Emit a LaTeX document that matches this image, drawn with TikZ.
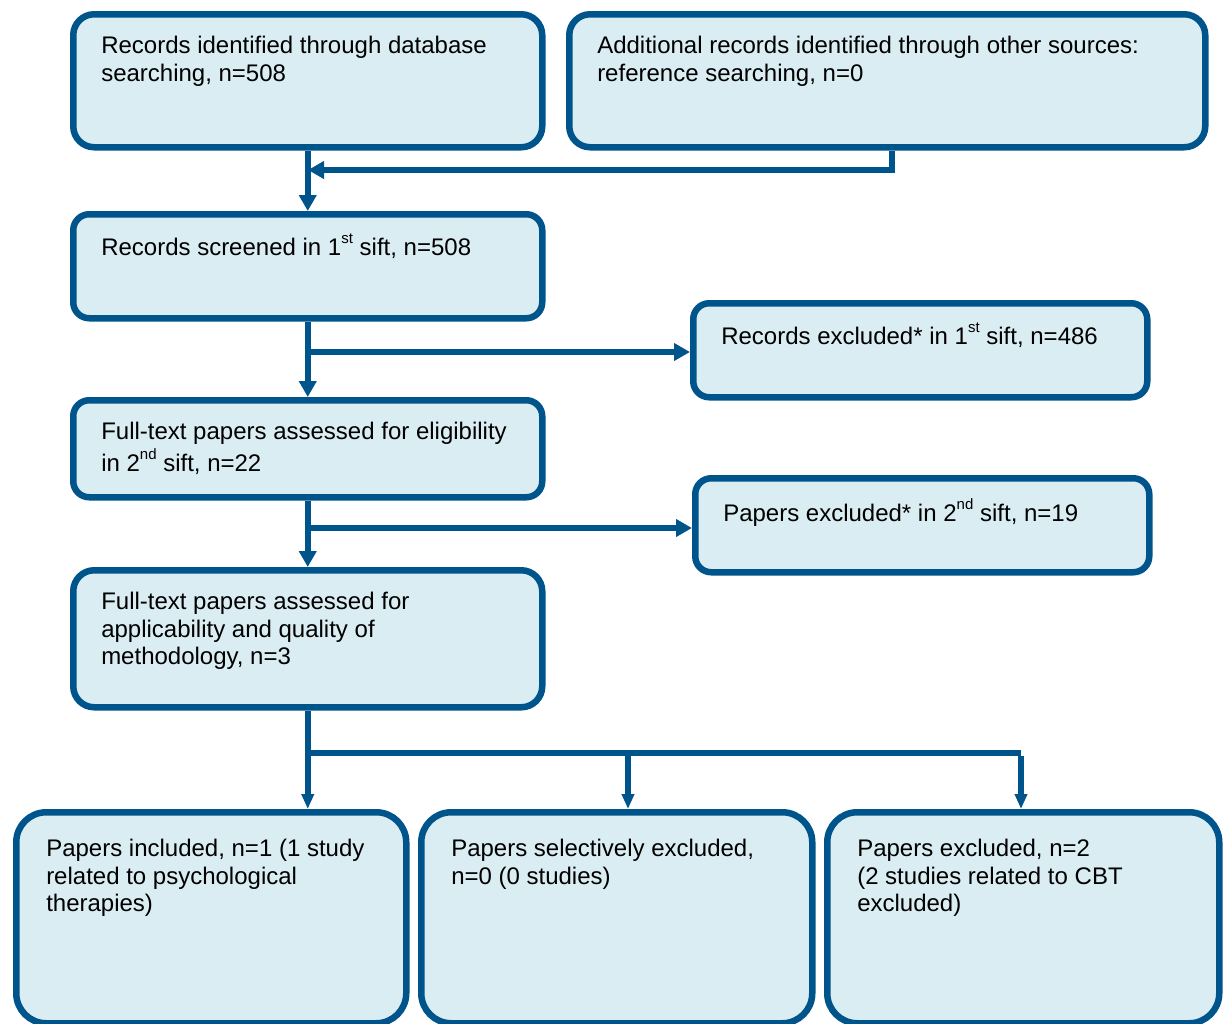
\documentclass[tikz,border=0pt]{standalone}
\usepackage{fontspec}
\setmainfont{Liberation Sans}
\usetikzlibrary{arrows.meta}

\definecolor{flowblue}{RGB}{0,84,140}
\definecolor{flowfill}{RGB}{218,237,243}

\newcommand{\stagetext}[3]{\parbox[c][\dimexpr#2pt-40pt\relax][t]{\dimexpr#1pt-56pt\relax}{\raggedright\strut #3}}
\newcommand{\outcometext}[3]{\parbox[c][\dimexpr#2pt-50pt\relax][t]{\dimexpr#1pt-60pt\relax}{\raggedright\strut #3}}
\newcommand{\ord}[1]{\raisebox{12pt}{\fontsize{15}{15}\selectfont #1}}

\tikzset{
  stage/.style={draw=flowblue, fill=flowfill, line width=6.5pt, rectangle, rounded corners=21pt,
    inner xsep=28pt, inner ysep=20pt, anchor=north west, font=\fontsize{24}{27.5}\selectfont},
  outcome/.style={stage, rounded corners=30pt, inner xsep=30pt, inner ysep=25pt},
  flow/.style={draw=flowblue, line width=6pt, -{Triangle[length=16pt,width=17pt]}},
  flowline/.style={draw=flowblue, line width=6pt},
}

\begin{document}
\begin{tikzpicture}[x=1pt,y=-1pt]
\useasboundingbox (0,0) rectangle (1226,1023);

\node[stage] (ident) at (70,11) {\stagetext{469}{133}{Records identified through database\\ searching, n=508}};
\node[stage] (extra) at (566,11) {\stagetext{636}{133}{Additional records identified through other sources:\\ reference searching, n=0}};
\node[stage, rounded corners=16pt] (screen) at (70,211) {\stagetext{469}{104}{Records screened in 1\ord{st} sift, n=508}};
\node[stage, rounded corners=16pt] (excl1) at (690,300) {\stagetext{454}{94}{Records excluded* in 1\ord{st} sift, n=486}};
\node[stage, rounded corners=16pt] (elig) at (70,397) {\stagetext{469}{97}{Full-text papers assessed for eligibility\\ in 2\ord{nd} sift, n=22}};
\node[stage, rounded corners=16pt] (excl2) at (692,475) {\stagetext{454}{94}{Papers excluded* in 2\ord{nd} sift, n=19}};
\node[stage] (appl) at (70,567) {\stagetext{469}{137}{Full-text papers assessed for\\ applicability and quality of\\ methodology, n=3}};
\node[outcome] (incl) at (13,809) {\outcometext{390}{211}{Papers included, n=1 (1 study\\ related to psychological\\ therapies)}};
\node[outcome] (selex) at (418,809) {\outcometext{391}{211}{Papers selectively excluded,\\ n=0 (0 studies)}};
\node[outcome] (excl) at (824,809) {\outcometext{392}{211}{Papers excluded, n=2\\ (2 studies related to CBT\\ excluded)}};

\coordinate (j1) at (308,170);
\coordinate (j2) at (305,352);
\coordinate (j3) at (305,528);
\coordinate (j4) at (305,753);
\coordinate (j5) at (628,753);
\coordinate (j6) at (1021,753);

\draw[flow] (ident.south) -- (screen.north);
\draw[flow] ([xshift=5pt]extra.south) |- (j1);
\draw[flow] (screen.south) -- (elig.north);
\draw[flow] (j2) -- (j2 -| excl1.west);
\draw[flow] (elig.south) -- (appl.north);
\draw[flow] (j3) -- (j3 -| excl2.west);
\draw[flow, -{Triangle[length=15pt,width=12pt]}] (appl.south) -- (appl.south |- incl.north);
\draw[flowline] (j4) -- (j6);
\draw[flow, -{Triangle[length=15pt,width=12pt]}] (j5) -- (j5 |- selex.north);
\draw[flow, -{Triangle[length=15pt,width=12pt]}] ([yshift=-3pt]j6) -- (j6 |- excl.north);
\end{tikzpicture}
\end{document}
